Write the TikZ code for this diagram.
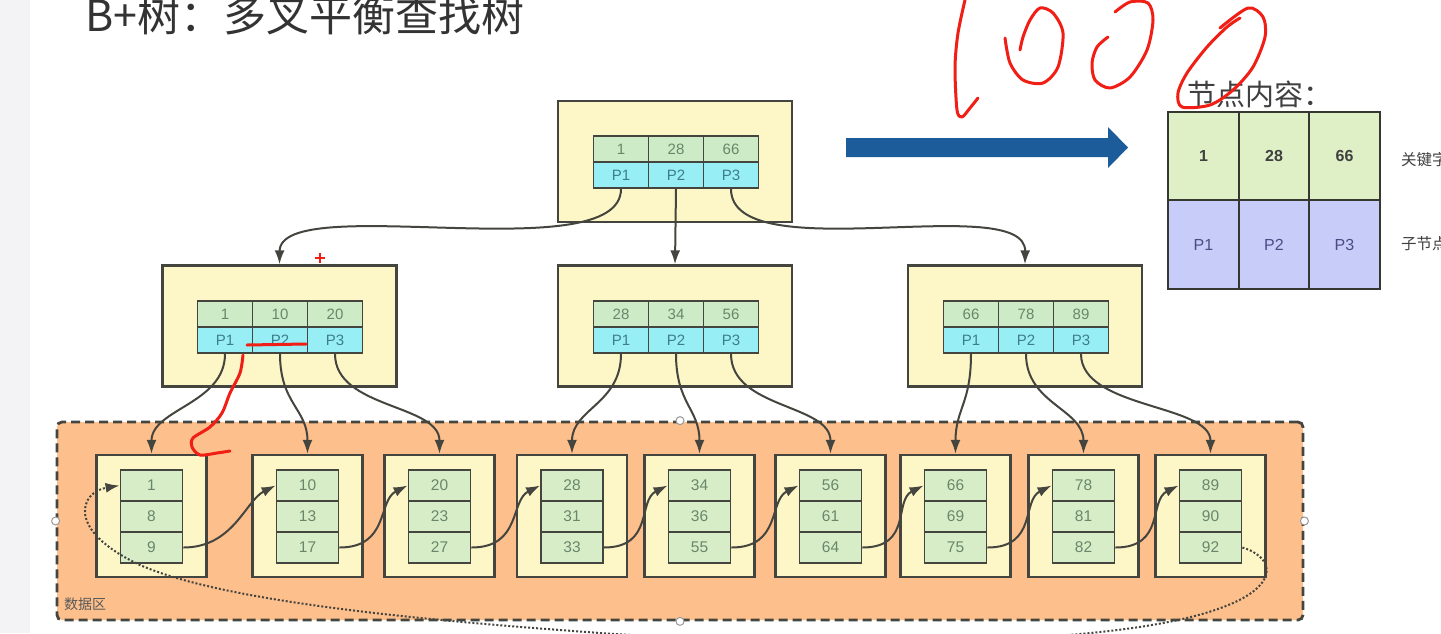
\documentclass[tikz,border=0pt]{standalone}
\usepackage{fontspec}
\setmainfont{Liberation Sans}
\newfontfamily\cjk{Noto Sans CJK SC}
\usetikzlibrary{arrows.meta}
\definecolor{edgegray}{HTML}{45453F}
\definecolor{nodeyellow}{HTML}{FDF6C6}
\definecolor{keygreen}{HTML}{CDEBC6}
\definecolor{ptrcyan}{HTML}{98EEF5}
\definecolor{leafgreen}{HTML}{D6EDC8}
\definecolor{dataorange}{HTML}{FDC08C}
\definecolor{celltext}{HTML}{6A866A}
\definecolor{ptrtext}{HTML}{3C7E8C}
\definecolor{bigblue}{HTML}{1D5C9A}
\definecolor{legendgreen}{HTML}{E0F0C6}
\definecolor{legendblue}{HTML}{C8CCF8}
\definecolor{redpen}{HTML}{F01E14}
\definecolor{sidegray}{HTML}{F3F3F5}
\begin{document}
\begin{tikzpicture}[x=1pt, y=-1pt, every node/.style={inner sep=0pt},
    treebox/.style={draw=edgegray, fill=nodeyellow, line width=2.3pt, minimum width=234, minimum height=121},
    keycell/.style={draw=edgegray, fill=keygreen, line width=1.8pt, minimum width=55, minimum height=26, text=celltext, font=\fontsize{15}{15}\selectfont},
    ptrcell/.style={keycell, fill=ptrcyan, text=ptrtext},
    leafbox/.style={draw=edgegray, fill=nodeyellow, line width=2.3pt, minimum width=110, minimum height=122},
    leafcell/.style={draw=edgegray, fill=leafgreen, line width=1.8pt, minimum width=62, minimum height=31, text=celltext, font=\fontsize{15.5}{15.5}\selectfont},
    legendcell/.style={draw=edgegray!80!black, line width=1.8pt, minimum width=70.5, minimum height=88.5, font=\fontsize{16}{16}\selectfont},
    childarrow/.style={draw=edgegray, line width=2pt, -{Latex[length=14pt,width=10pt]}},
    leaflink/.style={childarrow},
    redstroke/.style={draw=redpen, line width=3pt, line cap=round, line join=round}]

    \useasboundingbox (0,0) rectangle (1441,633);
    \clip (0,0) rectangle (1441,633);
    \fill[white] (0,0) rectangle (1441,633);
    \fill[sidegray] (0,0) rectangle (30,633);

    % Title
    \node[anchor=west, text=black!80, font=\cjk\fontsize{43}{43}\selectfont] (title) at (85,15) {B+树：多叉平衡查找树};

    % Root node
    \node[treebox] (root) at (675,161.5) {};
    \node[keycell] (rk1) at (621,149) {1};
    \node[keycell] (rk2) at (676,149) {28};
    \node[keycell] (rk3) at (731,149) {66};
    \node[ptrcell] (rp1) at (621,175) {P1};
    \node[ptrcell] (rp2) at (676,175) {P2};
    \node[ptrcell] (rp3) at (731,175) {P3};

    % Middle row
    \node[treebox] (A) at (279.5,326) {};
    \node[keycell] (ak1) at (225,314) {1};
    \node[keycell] (ak2) at (280,314) {10};
    \node[keycell] (ak3) at (335,314) {20};
    \node[ptrcell] (ap1) at (225,340) {P1};
    \node[ptrcell] (ap2) at (280,340) {P2};
    \node[ptrcell] (ap3) at (335,340) {P3};

    \node[treebox] (B) at (675,326) {};
    \node[keycell] (bk1) at (621,314) {28};
    \node[keycell] (bk2) at (676,314) {34};
    \node[keycell] (bk3) at (731,314) {56};
    \node[ptrcell] (bp1) at (621,340) {P1};
    \node[ptrcell] (bp2) at (676,340) {P2};
    \node[ptrcell] (bp3) at (731,340) {P3};

    \node[treebox] (C) at (1025,326) {};
    \node[keycell] (ck1) at (971,314) {66};
    \node[keycell] (ck2) at (1026,314) {78};
    \node[keycell] (ck3) at (1081,314) {89};
    \node[ptrcell] (cp1) at (971,340) {P1};
    \node[ptrcell] (cp2) at (1026,340) {P2};
    \node[ptrcell] (cp3) at (1081,340) {P3};

    % Data area
    \node[draw=edgegray, fill=dataorange, line width=2.8pt, dash pattern=on 9pt off 5pt, rounded corners=5pt,
          minimum width=1246, minimum height=198] (data) at (680,521) {};
    \node[anchor=west, text=black!65, font=\cjk\fontsize{14}{14}\selectfont] (datalabel) at (64,604) {数据区};
    \foreach \side in {west, east, north, south}
        \node[circle, draw=black!40, fill=white, line width=1pt, minimum size=8] at (data.\side) {};

    % Bottom row (leaves)
    \node[leafbox] (L1) at (151.5,516) {};
    \node[leafcell] (l1a) at (151.5,485.5) {1};
    \node[leafcell] (l1b) at (151.5,516.5) {8};
    \node[leafcell] (l1c) at (151.5,547.5) {9};

    \node[leafbox] (L2) at (307.5,516) {};
    \node[leafcell] (l2a) at (307.5,485.5) {10};
    \node[leafcell] (l2b) at (307.5,516.5) {13};
    \node[leafcell] (l2c) at (307.5,547.5) {17};

    \node[leafbox] (L3) at (439.5,516) {};
    \node[leafcell] (l3a) at (439.5,485.5) {20};
    \node[leafcell] (l3b) at (439.5,516.5) {23};
    \node[leafcell] (l3c) at (439.5,547.5) {27};

    \node[leafbox] (L4) at (572,516) {};
    \node[leafcell] (l4a) at (572,485.5) {28};
    \node[leafcell] (l4b) at (572,516.5) {31};
    \node[leafcell] (l4c) at (572,547.5) {33};

    \node[leafbox] (L5) at (699.5,516) {};
    \node[leafcell] (l5a) at (699.5,485.5) {34};
    \node[leafcell] (l5b) at (699.5,516.5) {36};
    \node[leafcell] (l5c) at (699.5,547.5) {55};

    \node[leafbox] (L6) at (830.5,516) {};
    \node[leafcell] (l6a) at (830.5,485.5) {56};
    \node[leafcell] (l6b) at (830.5,516.5) {61};
    \node[leafcell] (l6c) at (830.5,547.5) {64};

    \node[leafbox] (L7) at (955.5,516) {};
    \node[leafcell] (l7a) at (955.5,485.5) {66};
    \node[leafcell] (l7b) at (955.5,516.5) {69};
    \node[leafcell] (l7c) at (955.5,547.5) {75};

    \node[leafbox] (L8) at (1083.5,516) {};
    \node[leafcell] (l8a) at (1083.5,485.5) {78};
    \node[leafcell] (l8b) at (1083.5,516.5) {81};
    \node[leafcell] (l8c) at (1083.5,547.5) {82};

    \node[leafbox] (L9) at (1210.5,516) {};
    \node[leafcell] (l9a) at (1210.5,485.5) {89};
    \node[leafcell] (l9b) at (1210.5,516.5) {90};
    \node[leafcell] (l9c) at (1210.5,547.5) {92};

    % Edges root -> middle
    \draw[childarrow] (rp1.south) .. controls +(0,82) and (280,190) .. (A.north);
    \draw[childarrow] (rp2.south) -- (B.north);
    \draw[childarrow] (rp3.south) .. controls +(0,82) and (1026,190) .. (C.north);

    % Edges middle -> leaves
    \draw[childarrow] (ap1.south) .. controls +(0,50) and +(0,-45) .. (L1.north);
    \draw[childarrow] (ap2.south) .. controls +(0,50) and +(0,-45) .. (L2.north);
    \draw[childarrow] (ap3.south) .. controls +(0,55) and +(0,-50) .. (L3.north);
    \draw[childarrow] (bp1.south) .. controls +(0,50) and +(0,-45) .. (L4.north);
    \draw[childarrow] (bp2.south) .. controls +(0,50) and +(0,-45) .. (L5.north);
    \draw[childarrow] (bp3.south) .. controls +(0,55) and +(0,-50) .. (L6.north);
    \draw[childarrow] (cp1.south) .. controls +(0,50) and +(0,-45) .. (L7.north);
    \draw[childarrow] (cp2.south) .. controls +(0,50) and +(0,-45) .. (L8.north);
    \draw[childarrow] (cp3.south) .. controls +(0,55) and +(0,-50) .. (L9.north);

    % Links between leaves
    \draw[leaflink] (l1c.east) .. controls +(50,0) and +(-30,15) .. (l2a.west);
    \draw[leaflink] (l2c.east) .. controls +(50,0) and +(-30,15) .. (l3a.west);
    \draw[leaflink] (l3c.east) .. controls +(50,0) and +(-30,15) .. (l4a.west);
    \draw[leaflink] (l4c.east) .. controls +(50,0) and +(-30,15) .. (l5a.west);
    \draw[leaflink] (l5c.east) .. controls +(50,0) and +(-30,15) .. (l6a.west);
    \draw[leaflink] (l6c.east) .. controls +(50,0) and +(-30,15) .. (l7a.west);
    \draw[leaflink] (l7c.east) .. controls +(50,0) and +(-30,15) .. (l8a.west);
    \draw[leaflink] (l8c.east) .. controls +(50,0) and +(-30,15) .. (l9a.west);
    \draw[leaflink, dotted, line width=2pt] (l9c.east) .. controls (1285,560) and (1290,612) .. (1100,632)
        .. controls (950,648) and (750,645) .. (560,630)
        .. controls (400,618) and (220,600) .. (140,565)
        .. controls (65,530) and (80,492) .. (l1a.west);

    % Big arrow and node content
    \fill[bigblue] (846,138) -- (1108,138) -- (1108,127) -- (1128,147.5) -- (1108,168) -- (1108,157) -- (846,157) -- cycle;
    \node[anchor=west, text=black!75, font=\cjk\fontsize{29}{29}\selectfont] (legendtitle) at (1187,94) {节点内容：};
    \node[legendcell, fill=legendgreen, font=\bfseries\fontsize{16}{16}\selectfont, text=black!75] (g1) at (1203.5,156) {1};
    \node[legendcell, fill=legendgreen, font=\bfseries\fontsize{16}{16}\selectfont, text=black!75] (g2) at (1274,156) {28};
    \node[legendcell, fill=legendgreen, font=\bfseries\fontsize{16}{16}\selectfont, text=black!75] (g3) at (1344.5,156) {66};
    \node[legendcell, fill=legendblue, text=black!45!blue!40!gray] (q1) at (1203.5,244.5) {P1};
    \node[legendcell, fill=legendblue, text=black!45!blue!40!gray] (q2) at (1274,244.5) {P2};
    \node[legendcell, fill=legendblue, text=black!45!blue!40!gray] (q3) at (1344.5,244.5) {P3};
    \node[anchor=west, text=black!75, font=\cjk\fontsize{15.5}{15.5}\selectfont] (keynote) at (1401,160) {关键字};
    \node[anchor=west, text=black!75, font=\cjk\fontsize{15.5}{15.5}\selectfont] (ptrnote) at (1401,244) {子节点};

    % Red pen marks
    \draw[redstroke] plot[smooth] coordinates {(965,0) (958,33) (955,67) (957,110) (962,117) (970,108) (978,98)};
    \draw[redstroke] plot[smooth] coordinates {(1005,38) (1010,63) (1023,80) (1043,83) (1058,67) (1063,33) (1053,13) (1040,8) (1030,20) (1023,37) (1020,50)};
    \draw[redstroke] plot[smooth] coordinates {(1115,12) (1130,2) (1148,3) (1153,20) (1147,50) (1130,77) (1110,88) (1095,80) (1092,63) (1097,47) (1108,37)};
    \draw[redstroke] plot[smooth] coordinates {(1220,28) (1248,8) (1263,17) (1265,37) (1253,67) (1233,90) (1210,105) (1182,107) (1178,93) (1187,73) (1207,47) (1227,27) (1240,18)};
    \draw[redstroke] (247,345) -- (306,344);
    \draw[redstroke] plot[smooth] coordinates {(243,355) (240,373) (230,393) (222,413) (210,427) (193,438) (192,447) (200,455) (217,453) (230,451)};
    \draw[draw=redpen, line width=1.5pt] (315,258) -- (325,258) (320,253) -- (320,263);

\end{tikzpicture}
\end{document}
